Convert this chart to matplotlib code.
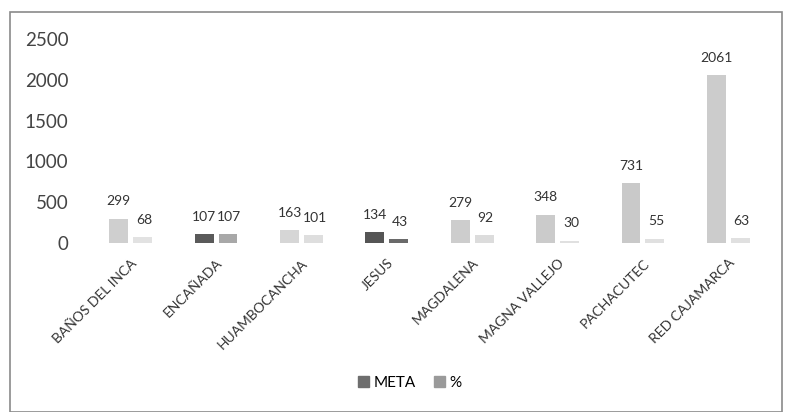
import matplotlib
matplotlib.use("Agg")
import matplotlib.pyplot as plt
import numpy as np
from matplotlib.patches import Rectangle

plt.rcParams['font.family'] = ['Lato', 'DejaVu Sans']

categories = ["BAÑOS DEL INCA", "ENCAÑADA", "HUAMBOCANCHA", "JESUS",
              "MAGDALENA", "MAGNA VALLEJO", "PACHACUTEC", "RED CAJAMARCA"]
meta = [299, 107, 163, 134, 279, 348, 731, 2061]
pct = [68, 107, 101, 43, 92, 30, 55, 63]
yticks = [0, 500, 1000, 1500, 2000, 2500]

meta_colors = ["#cfcfcf", "#5a5a5a", "#d6d6d6", "#555555",
               "#cdcdcd", "#cbcbcb", "#c9c9c9", "#cccccc"]
pct_colors = ["#e2e2e2", "#a8a8a8", "#dedede", "#6a6a6a",
              "#dcdcdc", "#e0e0e0", "#e0e0e0", "#e0e0e0"]

fig = plt.figure(figsize=(7.85, 4.12), dpi=100)
ax = fig.add_axes([88 / 785, 1 - 243 / 412, (771 - 88) / 785, (243 - 39) / 412])

x = np.arange(len(categories))
w = 0.22
gap = 0.03
b1 = ax.bar(x - w / 2 - gap, meta, w, color=meta_colors, label="META")
b2 = ax.bar(x + w / 2 + gap, pct, w, color=pct_colors, label="%")

for rect, v in zip(b1, meta):
    ax.annotate(str(v), (rect.get_x() + rect.get_width() / 2, v),
                xytext=(0, 8), textcoords="offset points",
                ha="center", va="bottom", fontsize=10, color="#333333")
for rect, v in zip(b2, pct):
    ax.annotate(str(v), (rect.get_x() + rect.get_width() / 2, v),
                xytext=(1, 8), textcoords="offset points",
                ha="center", va="bottom", fontsize=10, color="#333333")

ax.set_xlim(-0.5, len(categories) - 0.5)
ax.set_ylim(0, 2500)
ax.set_yticks(yticks)
ax.set_yticklabels([str(t) for t in yticks], fontsize=13.5, color="#444444")
ax.set_xticks(x)
ax.set_xticklabels(categories, rotation=45, ha="right", rotation_mode="anchor",
                   fontsize=10, color="#333333")
ax.tick_params(axis="x", length=0, pad=10)
ax.tick_params(axis="y", length=0, pad=14)
for s in ax.spines.values():
    s.set_visible(False)

handles = [Rectangle((0, 0), 1, 1, color="#6e6e6e"),
           Rectangle((0, 0), 1, 1, color="#9a9a9a")]
fig.legend(handles, ["META", "%"], loc="center", bbox_to_anchor=(410 / 785, 1 - 383 / 412),
           ncol=2, frameon=False, fontsize=11, handlelength=0.7, handleheight=0.7,
           columnspacing=1.2, handletextpad=0.3)

# outer chart frame
frame = Rectangle((10 / 785, 0.0), (782 - 10) / 785, 1 - 12 / 412,
                  transform=fig.transFigure, fill=False, edgecolor="#8a8a8a", lw=1.2)
fig.add_artist(frame)

fig.savefig("out.png", dpi=100)
